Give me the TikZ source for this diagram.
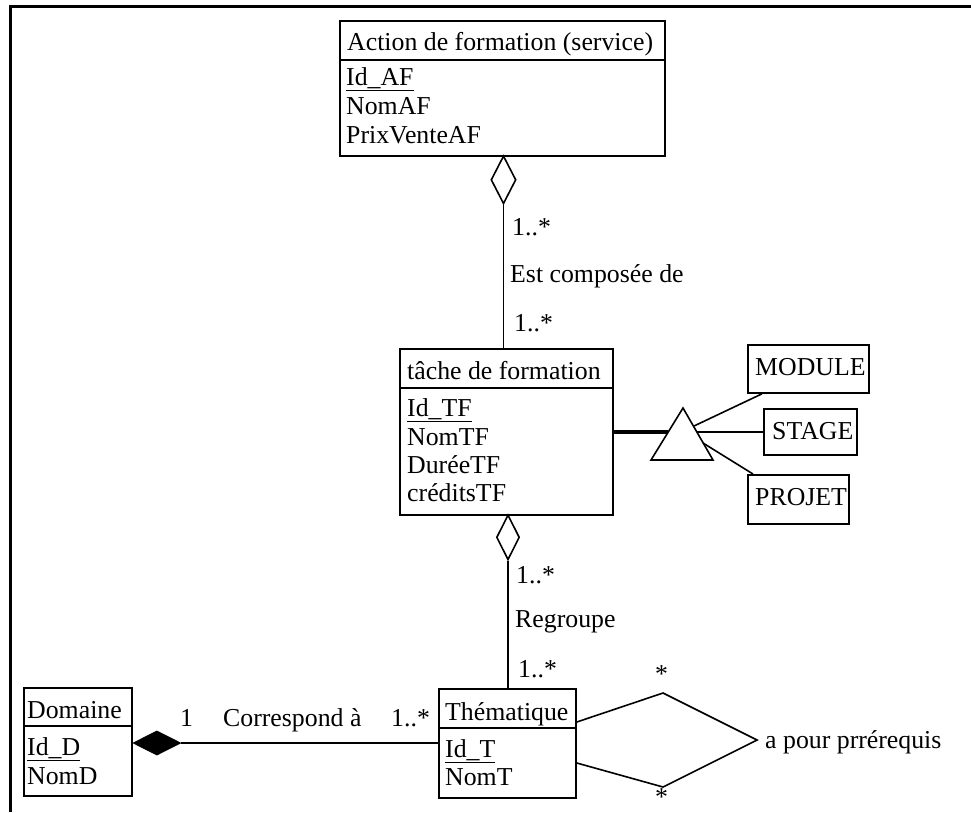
\documentclass[tikz,border=0pt]{standalone}
\usepackage{fontspec}
\setmainfont{Liberation Serif}
\usetikzlibrary{shapes.geometric,calc}
\tikzset{
  box/.style={draw=black, line width=1.8pt, rectangle, inner sep=0pt},
  sepline/.style={draw=black, line width=1.8pt},
  conn/.style={draw=black, line width=1.6pt},
  thick conn/.style={draw=black, line width=4.5pt},
  frame/.style={draw=black, line width=3pt},
  txt/.style={inner sep=0pt, anchor=base west, font=\fontsize{25.8}{28}\selectfont},
  hollowdia/.style={diamond, draw=black, line width=1.6pt, fill=white, inner sep=0pt},
  filldia/.style={diamond, draw=black, line width=1.2pt, fill=black, inner sep=0pt},
}
\begin{document}
\begin{tikzpicture}[x=1pt,y=-1pt]
\useasboundingbox (0,0) rectangle (971,812);
% outer frame (top and left only)
\draw[frame] (10,812) -- (10,6.5) -- (971,6.5);

% ---------- Action de formation ----------
\node[box, minimum width=325, minimum height=135, anchor=north west] (af) at (339,20) {};
\draw[sepline] (af.west |- 0,60) -- (af.east |- 0,60);
\node[txt] (afT) at (347,50) {Action de formation (service)};
\node[txt] (afA1) at (346,85) {\underline{Id\_AF}};
\node[txt] (afA2) at (346,114) {NomAF};
\node[txt] (afA3) at (346,143) {PrixVenteAF};

% ---------- tache de formation ----------
\node[box, minimum width=213, minimum height=166, anchor=north west] (tf) at (399,348) {};
\draw[sepline] (tf.west |- 0,388) -- (tf.east |- 0,388);
\node[txt] (tfT) at (407,379) {tâche de formation};
\node[txt] (tfA1) at (407,416) {\underline{Id\_TF}};
\node[txt] (tfA2) at (407,445) {NomTF};
\node[txt] (tfA3) at (407,473) {DuréeTF};
\node[txt] (tfA4) at (407,501) {créditsTF};

% ---------- Thematique ----------
\node[box, minimum width=137, minimum height=109, anchor=north west] (th) at (438,688) {};
\draw[sepline] (th.west |- 0,728) -- (th.east |- 0,728);
\node[txt] (thT) at (445,720) {Thématique};
\node[txt] (thA1) at (445,757) {\underline{Id\_T}};
\node[txt] (thA2) at (445,785) {NomT};

% ---------- Domaine ----------
\node[box, minimum width=108, minimum height=108, anchor=north west] (dom) at (23,687) {};
\draw[sepline] (dom.west |- 0,726) -- (dom.east |- 0,726);
\node[txt] (domT) at (27,718) {Domaine};
\node[txt] (domA1) at (27,755) {\underline{Id\_D}};
\node[txt] (domA2) at (27,784) {NomD};

% ---------- subclasses ----------
\node[box, minimum width=121, minimum height=48, anchor=north west] (mod) at (747,344) {};
\node[txt] (modT) at (755,375) {MODULE};
\node[box, minimum width=93, minimum height=46, anchor=north west] (stg) at (763,408) {};
\node[txt] (stgT) at (772,439) {STAGE};
\node[box, minimum width=101, minimum height=49, anchor=north west] (prj) at (747,474) {};
\node[txt] (prjT) at (755,505) {PROJET};

% ---------- aggregation AF <- tache ----------
\node[hollowdia, minimum width=25, minimum height=48, anchor=north] (d1) at (503.5,155) {};
\draw[conn] (d1.south) -- (d1.south |- tf.north);
\node[txt] (m1) at (512,235) {1..*};
\node[txt] (r1) at (510,282) {Est composée de};
\node[txt] (m2) at (514,331) {1..*};

% ---------- aggregation tache <- Thematique ----------
\node[hollowdia, minimum width=23, minimum height=45, anchor=north] (d2) at (508,514) {};
\draw[conn] (d2.south) -- (d2.south |- th.north);
\node[txt] (m3) at (516,583) {1..*};
\node[txt] (r2) at (515,627) {Regroupe};
\node[txt] (m4) at (518,677) {1..*};

% ---------- generalisation triangle ----------
\coordinate (tApex) at (683,408);
\coordinate (tBL) at (651,460);
\coordinate (tBR) at (713,460);
\draw[conn, line join=miter] (tApex) -- (tBL) -- (tBR) -- cycle;
\coordinate (tIn) at (668,432);
\coordinate (tMod) at (694,426);
\coordinate (tStg) at (697,432);
\coordinate (tPrj) at (703,443);
\draw[thick conn] (tf.east |- tIn) -- (tIn);
\draw[conn] (tMod) -- ($(mod.south west)+(15,0)$);
\draw[conn] (tStg) -- (stg.west |- tStg);
\draw[conn] (tPrj) -- ($(prj.north west)+(6,0)$);

% ---------- composition Domaine - Thematique ----------
\node[filldia, minimum width=47, minimum height=24, anchor=west] (d3) at (dom.east |- 0,743) {};
\draw[conn] (d3.east) -- (th.west |- d3.east);
\node[txt] (m5) at (180,726) {1};
\node[txt] (r3) at (223,726) {Correspond à};
\node[txt] (m6) at (391,726) {1..*};

% ---------- reflexive association ----------
\coordinate (pTop) at (663,693);
\coordinate (pRight) at (757,740);
\coordinate (pBot) at (663,787);
\draw[conn] (th.east |- 0,722) -- (pTop) -- (pRight) -- (pBot) -- (th.east |- 0,763);
\node[txt] (r4) at (765,748) {a pour prrérequis};
\node[txt] (s1) at (655,682) {*};
\node[txt] (s2) at (655,805) {*};
\end{tikzpicture}
\end{document}
